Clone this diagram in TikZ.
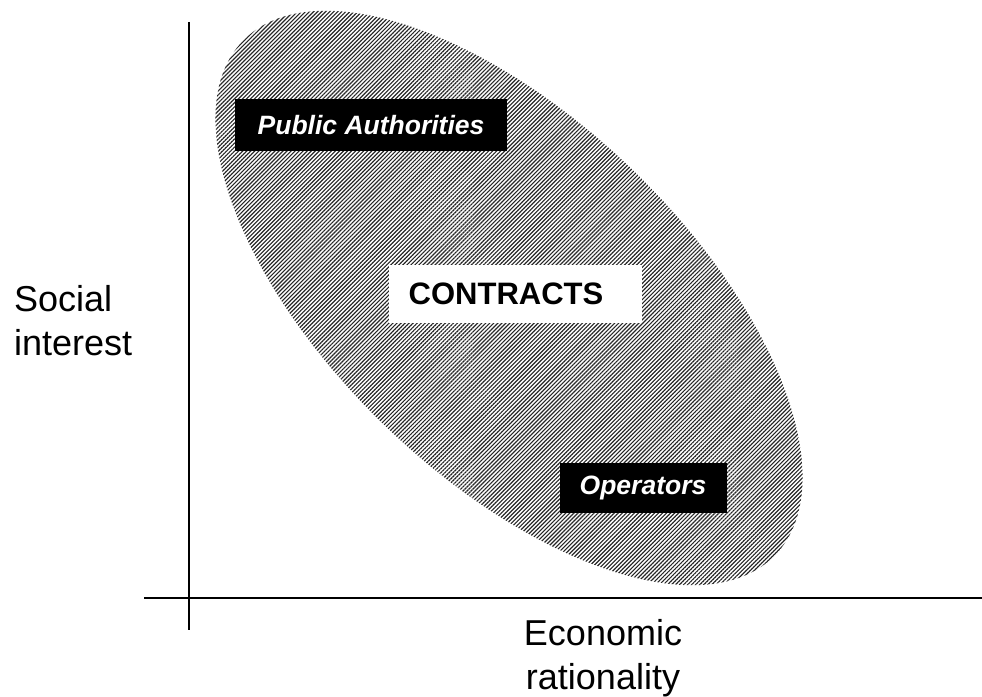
\documentclass[tikz,border=0pt]{standalone}
\usepackage{fontspec}
\setmainfont{Liberation Sans}
\usepackage{tikz}
\usetikzlibrary{patterns.meta}

\tikzset{
    axis/.style={line width=2.5pt, black},
    actor/.style={fill=black, text=white, inner sep=0pt,
        font=\bfseries\itshape\fontsize{26.5}{31}\selectfont},
    axislabel/.style={inner sep=0pt, font=\fontsize{36}{44}\selectfont}
}

\begin{document}
\begin{tikzpicture}[x=1pt, y=1pt]
    \useasboundingbox (0,0) rectangle (982,696);

    % Define the hatched area
    \fill[pattern={Lines[angle=45, distance=2.85pt, line width=1.15pt]}, pattern color=black!85]
        (509,398) ellipse [x radius=370, y radius=178, rotate=-44];

    % Define axes
    \coordinate (ytop) at (189,674);
    \coordinate (ybot) at (189,66);
    \coordinate (xleft) at (144,98);
    \coordinate (xright) at (982,98);
    \draw[axis] (ytop) -- (ybot);
    \draw[axis] (xleft) -- (xright);

    % Define labels
    \node[axislabel, align=left, anchor=west] (social) at (14,375) {Social\\interest};
    \node[axislabel, align=center] (econ) at (603,38) {Economic\\rationality};

    \node[actor, minimum width=272pt, minimum height=52pt] (public) at (371,571) {Public Authorities};
    \node[fill=white, inner sep=0pt, minimum height=58pt,
        font=\bfseries\fontsize{31}{37}\selectfont] (contracts) at (515.5,402)
        {\hspace*{20pt}CONTRACTS\hspace*{39pt}};
    \node[actor, minimum width=167pt, minimum height=50pt] (operators) at (643,208) {Operators};
\end{tikzpicture}
\end{document}
